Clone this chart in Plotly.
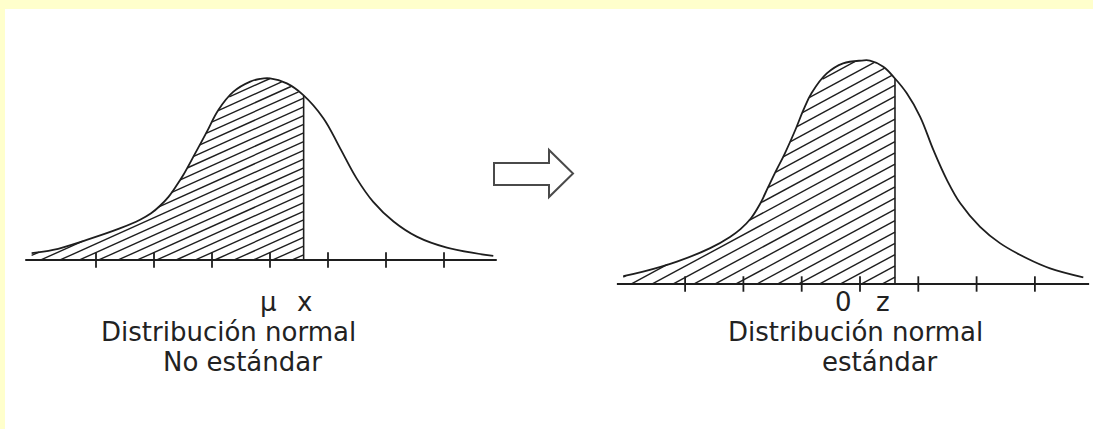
import numpy as np
import plotly.graph_objects as go

# Curves: x in tick units (0 = centre tick), y as density
NONSTD_X = [-4.11, -3.74, -3.16, -2.59, -2.24, -2.05, -1.90, -1.75, -1.60, -1.49,
            -1.29, -1.09, -0.89, -0.63, -0.34, -0.17, 0.0, 0.29, 0.57, 0.92,
            1.21, 1.49, 1.78, 2.13, 2.53, 3.05, 3.85]
NONSTD_Y = [0.015, 0.022, 0.044, 0.069, 0.088, 0.102, 0.118, 0.138, 0.165, 0.187,
            0.233, 0.280, 0.328, 0.368, 0.390, 0.396, 0.397, 0.386, 0.361, 0.310,
            0.244, 0.179, 0.127, 0.084, 0.051, 0.027, 0.009]
NONSTD_CUT = 0.58
NONSTD_TICKS = [-3, -2, -1, 0, 1, 2, 3]
NONSTD_AXIS = [-4.22, 3.91]
NONSTD_LABELS = ["μ", "x"]
NONSTD_LABEL_X = [-0.03, 0.6]
NONSTD_TITLE = ["Distribución normal", "No estándar"]
NONSTD_TITLE_X = [-0.72, -0.47]

STD_X = [-4.06, -3.72, -3.14, -2.57, -2.23, -2.05, -1.88, -1.72, -1.58, -1.46,
         -1.29, -1.11, -0.97, -0.83, -0.57, -0.29, 0.03, 0.17, 0.40, 0.60,
         0.80, 1.03, 1.26, 1.49, 1.72, 2.06, 2.40, 2.86, 3.26, 3.83]
STD_Y = [0.014, 0.022, 0.040, 0.064, 0.084, 0.098, 0.116, 0.142, 0.172, 0.198,
         0.233, 0.275, 0.311, 0.341, 0.376, 0.394, 0.399, 0.399, 0.388, 0.367,
         0.341, 0.299, 0.239, 0.186, 0.144, 0.102, 0.073, 0.046, 0.028, 0.012]
STD_CUT = 0.60
STD_TICKS = [-3, -2, -1, 0, 1, 2, 3]
STD_AXIS = [-4.17, 3.93]
STD_LABELS = ["0", "z"]
STD_LABEL_X = [-0.29, 0.39]
STD_TITLE = ["Distribución normal", "estándar"]
STD_TITLE_X = [-0.07, 0.34]

W, H = 1093, 429
YELLOW = "#FFFFCC"
INK = "#1e1e1e"
TEXT = "#222222"
FONT = "DejaVu Sans, Verdana, sans-serif"
FS = 26

# panel geometry: pixel of the origin, pixels per unit, hatch slope/pitch in px
panels = [
    dict(xs=NONSTD_X, ys=NONSTD_Y, cut=NONSTD_CUT, ticks=NONSTD_TICKS, axis=NONSTD_AXIS,
         labels=NONSTD_LABELS, label_x=NONSTD_LABEL_X, title=NONSTD_TITLE, title_x=NONSTD_TITLE_X,
         dom=(0.0, 0.5), x0=270, xu=58.0, y0=260, yu=457.5, slope=0.45, pitch=8.7),
    dict(xs=STD_X, ys=STD_Y, cut=STD_CUT, ticks=STD_TICKS, axis=STD_AXIS,
         labels=STD_LABELS, label_x=STD_LABEL_X, title=STD_TITLE, title_x=STD_TITLE_X,
         dom=(0.5, 1.0), x0=860, xu=58.3, y0=284, yu=560.0, slope=0.54, pitch=11.3),
]


def hatch(xs, ys, cut, slope, pitch, n=1500):
    """Diagonal hatch lines clipped to the area under the curve left of cut."""
    xs, ys = np.asarray(xs), np.asarray(ys)
    grid = np.linspace(xs[0], cut, n)
    top = np.interp(grid, xs, ys)
    bmax = np.max(top + slope * (cut - grid))
    hx, hy = [], []
    b = pitch * 0.6
    while b < bmax:
        yl = slope * (grid - cut) + b
        inside = (yl >= 0) & (yl <= top)
        idx = np.flatnonzero(inside)
        if idx.size:
            breaks = np.flatnonzero(np.diff(idx) > 1)
            starts = np.r_[idx[0], idx[breaks + 1]]
            ends = np.r_[idx[breaks], idx[-1]]
            for s, e in zip(starts, ends):
                hx += [grid[s], grid[e], None]
                hy += [yl[s], yl[e], None]
        b += pitch
    return hx, hy


fig = go.Figure()
annotations = []
layout_axes = {}

for i, p in enumerate(panels):
    sfx = "" if i == 0 else str(i + 1)
    xa, ya = "x" + sfx, "y" + sfx
    d0, d1 = p["dom"][0] * W, p["dom"][1] * W
    layout_axes["xaxis" + sfx] = dict(domain=list(p["dom"]), anchor=ya, visible=False, fixedrange=True,
                                      range=[(d0 - p["x0"]) / p["xu"], (d1 - p["x0"]) / p["xu"]])
    layout_axes["yaxis" + sfx] = dict(domain=[0, 1], anchor=xa, visible=False, fixedrange=True,
                                      range=[(p["y0"] - H) / p["yu"], p["y0"] / p["yu"]])

    slope = p["slope"] * p["xu"] / p["yu"]
    pitch = p["pitch"] / p["yu"]
    hx, hy = hatch(p["xs"], p["ys"], p["cut"], slope, pitch)
    fig.add_trace(go.Scatter(x=hx, y=hy, mode="lines", line=dict(color=INK, width=1.4),
                             xaxis=xa, yaxis=ya, hoverinfo="skip"))

    # axis line + ticks
    fig.add_trace(go.Scatter(x=p["axis"], y=[0, 0], mode="lines", line=dict(color=INK, width=1.8),
                             xaxis=xa, yaxis=ya, hoverinfo="skip"))
    fig.add_trace(go.Scatter(x=p["ticks"], y=[0] * len(p["ticks"]), mode="markers",
                             marker=dict(symbol="line-ns", size=11, line=dict(color=INK, width=1.8)),
                             xaxis=xa, yaxis=ya, hoverinfo="skip"))

    # boundary of shaded area
    ycut = float(np.interp(p["cut"], p["xs"], p["ys"]))
    fig.add_trace(go.Scatter(x=[p["cut"], p["cut"]], y=[0, ycut], mode="lines",
                             line=dict(color=INK, width=1.6), xaxis=xa, yaxis=ya, hoverinfo="skip"))

    # the bell curve
    fig.add_trace(go.Scatter(x=p["xs"], y=p["ys"], mode="lines", line_shape="spline",
                             line=dict(color=INK, width=1.8, smoothing=1.1),
                             xaxis=xa, yaxis=ya, hoverinfo="skip"))

    for lab, lx in zip(p["labels"], p["label_x"]):
        annotations.append(dict(text=lab, x=lx, xref=xa, y=1 - 302 / H, yref="paper",
                                showarrow=False, xanchor="center", yanchor="middle",
                                font=dict(family=FONT, size=FS, color=TEXT)))
    for line, tx, py in zip(p["title"], p["title_x"], [332, 362]):
        annotations.append(dict(text=line, x=tx, xref=xa, y=1 - py / H, yref="paper",
                                showarrow=False, xanchor="center", yanchor="middle",
                                font=dict(family=FONT, size=FS, color=TEXT)))


def px(x, y):
    return x / W, 1 - y / H


# white page inside the yellow frame
bx0, by0 = px(5, 9)
bx1, by1 = px(W, H)
shapes = [dict(type="rect", xref="paper", yref="paper", x0=bx0, y0=by1, x1=bx1, y1=by0,
               fillcolor="white", line=dict(width=0), layer="below")]

# block arrow between the panels
arrow_pts = [(494, 163), (549, 163), (549, 150), (573, 173.5), (549, 197), (549, 185), (494, 185)]
path = "M " + " L ".join("{:.5f},{:.5f}".format(*px(x, y)) for x, y in arrow_pts) + " Z"
shapes.append(dict(type="path", xref="paper", yref="paper", path=path,
                   fillcolor="white", line=dict(color="#4a4a4a", width=2)))

fig.update_layout(
    width=W, height=H,
    margin=dict(l=0, r=0, t=0, b=0),
    paper_bgcolor=YELLOW,
    plot_bgcolor="rgba(0,0,0,0)",
    showlegend=False,
    annotations=annotations,
    shapes=shapes,
    **layout_axes,
)

fig.write_html("out.html", config={"displayModeBar": False},
               post_script="document.body.style.margin='0';document.body.style.overflow='hidden';")
